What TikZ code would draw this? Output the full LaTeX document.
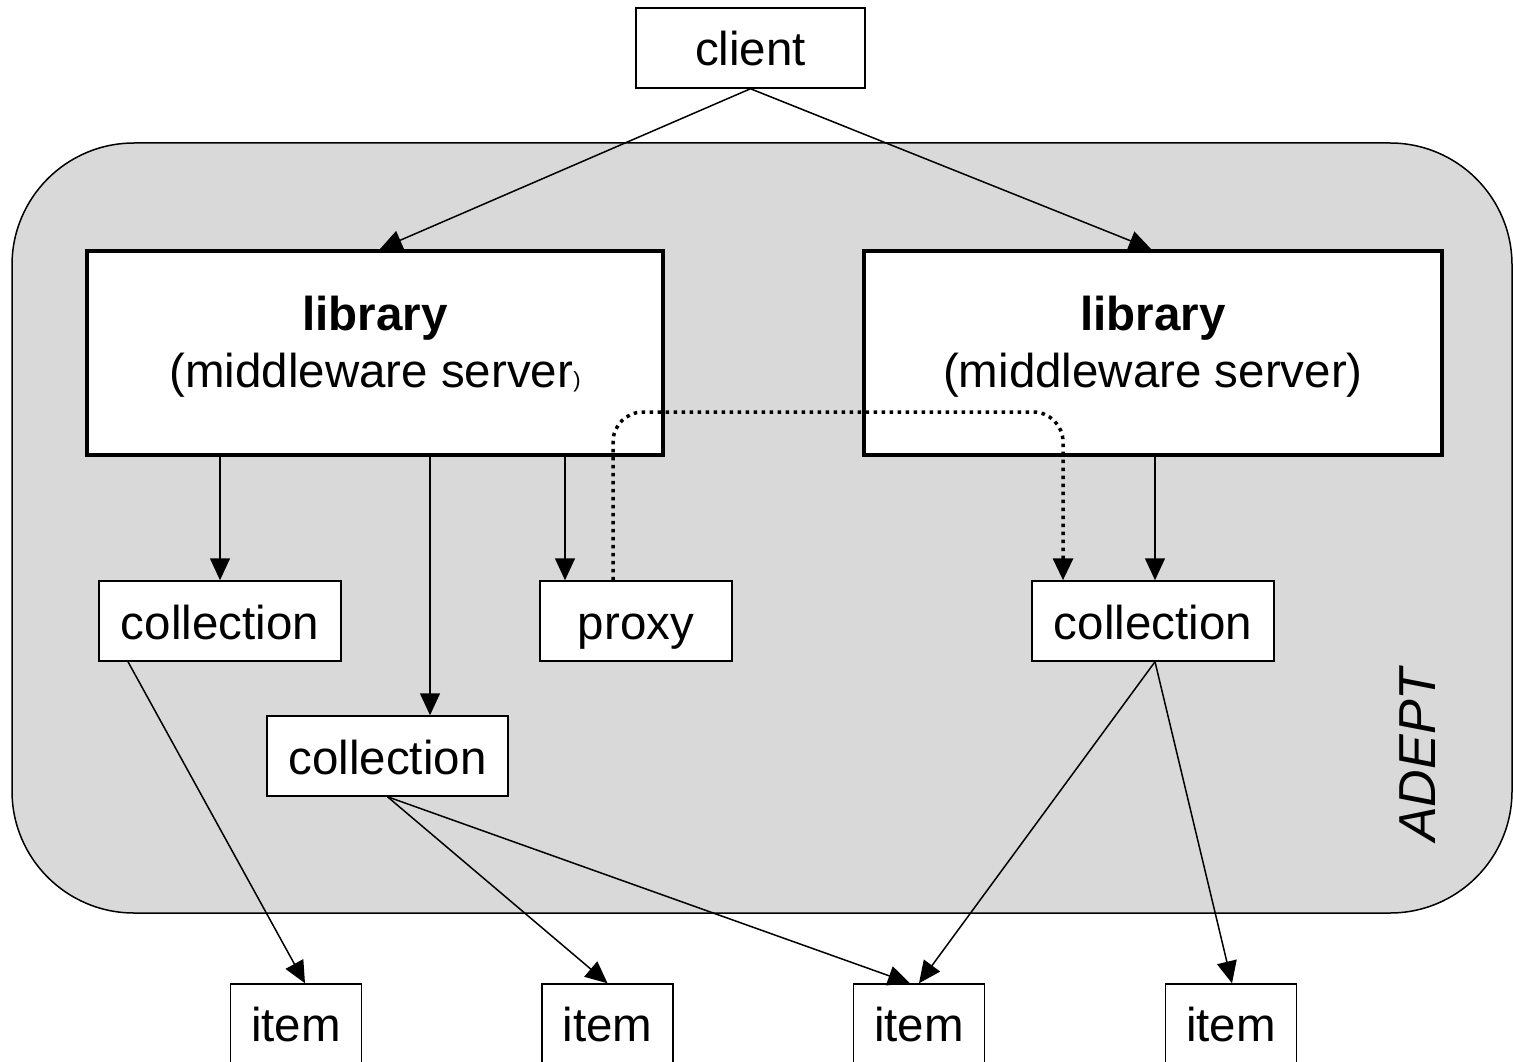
\documentclass[tikz,border=0pt]{standalone}
\usepackage{fontspec}
\setmainfont{Liberation Sans}
\usetikzlibrary{arrows.meta,calc}
\definecolor{adeptgray}{RGB}{217,217,217}
\newcommand{\bigtext}{\fontsize{47.5}{57}\selectfont}
\begin{document}
\begin{tikzpicture}[x=1pt,y=-1pt,
  box/.style={draw, line width=1.5pt, fill=white, inner sep=0pt,
    font=\bigtext, text height=44pt, text depth=8pt, minimum height=80pt},
  libbox/.style={draw, line width=4pt, fill=white, inner sep=0pt,
    minimum width=576pt, minimum height=204pt},
  libtext/.style={font=\bigtext, anchor=base},
  arr/.style={line width=1.5pt, -{Triangle[length=22pt,width=20pt]}},
  dotarr/.style={line width=3.5pt, dash pattern=on 3.5pt off 4.5pt,
    rounded corners=30pt, -{Triangle[length=22pt,width=20pt]}},
]
\useasboundingbox (0,0) rectangle (1513,1062);

% ADEPT domain
\draw[line width=1.5pt, fill=adeptgray, rounded corners=122pt]
  (12,143) rectangle (1512,913);
\node[rotate=90, font=\fontsize{52}{60}\selectfont\itshape] (adept) at (1418,755) {ADEPT};

% client and the two libraries
\node[box, minimum width=229pt] (client) at (750.5,48) {client};
\node[libbox] (lib1) at (375,353) {};
\node[libbox, minimum width=578pt] (lib2) at (1153,353) {};
\node[libtext] (lib1title) at (375,330) {\textbf{library}};
\node[libtext] (lib1sub) at (375,387) {(middleware server{\fontsize{22}{24}\selectfont)}};
\node[libtext] (lib2title) at (1153,330) {\textbf{library}};
\node[libtext] (lib2sub) at (1153,387) {(middleware server)};

% collections and proxy
\node[box, minimum width=242pt] (col1) at (220,621) {collection};
\node[box, minimum width=192pt] (proxy) at (636,621) {proxy};
\node[box, minimum width=242pt] (col3) at (1153,621) {collection};
\node[box, minimum width=241pt] (col2) at (387.5,756) {collection};

% items along the bottom edge
\foreach \i/\x in {1/296,2/607.5,3/919,4/1231} {
  \node[draw, line width=1.5pt, fill=white, minimum width=131pt, minimum height=100pt]
    (item\i) at (\x,1034) {};
  \node[font=\bigtext, anchor=base] (itemlabel\i) at ($(item\i.north)+(0,58)$) {item};
}

% connector columns
\coordinate (xcol2) at (430,0);
\coordinate (xproxy) at (565,0);
\coordinate (xdotA) at (613,0);
\coordinate (xdotB) at (1063,0);
\coordinate (ydot) at (0,412);

% client to libraries
\draw[arr] (client.south) -- ($(lib1.north)+(5,0)$);
\draw[arr] (client.south) -- ($(lib2.north)+(-2,0)$);

% libraries to collections and proxy
\draw[arr] (lib1.south -| col1.north) -- (col1.north);
\draw[arr] (lib1.south -| xcol2) -- (col2.north -| xcol2);
\draw[arr] (lib1.south -| xproxy) -- (proxy.north -| xproxy);
\draw[arr] ($(lib2.south)+(2,0)$) -- ($(col3.north)+(2,0)$);

% proxy reference to the remote collection
\draw[dotarr] (proxy.north -| xdotA) -- (xdotA |- ydot) -- (xdotB |- ydot) -- (col3.north -| xdotB);

% collections to items
\draw[arr] ($(col1.south)+(-92,0)$) -- ($(item1.north)+(9,0)$);
\draw[arr] (col2.south) -- (item2.north);
\draw[arr] (col2.south) -- ($(item3.north)+(-9,0)$);
\draw[arr] ($(col3.south)+(2,0)$) -- (item3.north);
\draw[arr] ($(col3.south)+(2,0)$) -- ($(item4.north)+(1,0)$);
\end{tikzpicture}
\end{document}
